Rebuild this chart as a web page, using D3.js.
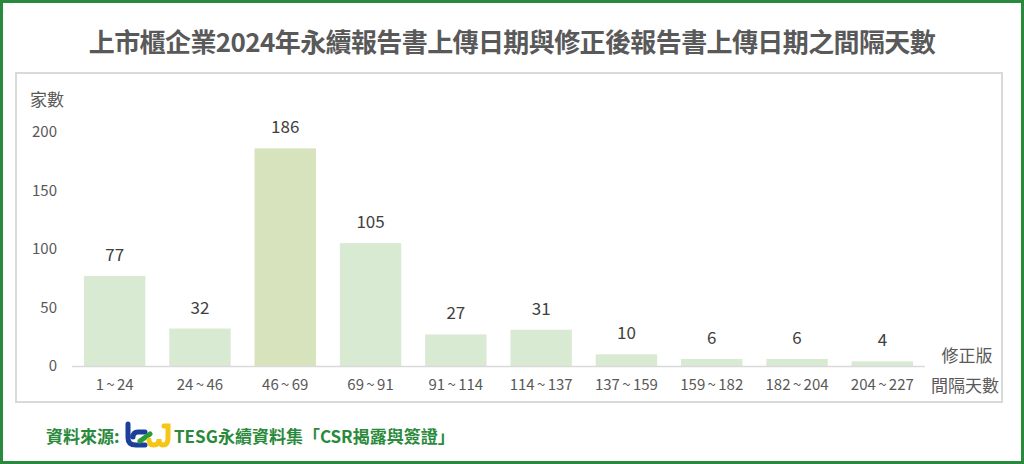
<!DOCTYPE html>
<html>
<head>
<meta charset="utf-8">
<script src="https://cdn.jsdelivr.net/npm/d3@7"></script>
<style>
  body { margin: 0; background: #fff; }
  svg { display: block; font-family: "Noto Sans CJK TC", "Noto Sans", sans-serif; }
</style>
</head>
<body>
<div id="chart"></div>
<script>
// data
const categories = ["1 ~ 24", "24 ~ 46", "46 ~ 69", "69 ~ 91", "91 ~ 114", "114 ~ 137", "137 ~ 159", "159 ~ 182", "182 ~ 204", "204 ~ 227"];
const counts = [77, 32, 186, 105, 27, 31, 10, 6, 6, 4];
const highlight = "46 ~ 69";
const yTicks = [0, 50, 100, 150, 200];

const W = 1024, H = 464;

const svg = d3.select("#chart").append("svg")
    .attr("width", W)
    .attr("height", H);

// outer green frame
svg.append("rect")
    .attr("x", 1.5).attr("y", 1.5)
    .attr("width", W - 3).attr("height", H - 3)
    .attr("fill", "#fff")
    .attr("stroke", "#2a8a3c")
    .attr("stroke-width", 3);

// title
svg.append("text")
    .attr("x", 512).attr("y", 52)
    .attr("text-anchor", "middle")
    .attr("font-size", 26)
    .attr("font-weight", "bold")
    .attr("fill", "#595959")
    .attr("letter-spacing", -0.6)
    .text("上市櫃企業2024年永續報告書上傳日期與修正後報告書上傳日期之間隔天數");

// chart panel
svg.append("rect")
    .attr("x", 16).attr("y", 73)
    .attr("width", 986).attr("height", 329)
    .attr("fill", "#fff")
    .attr("stroke", "#d9d9d9")
    .attr("stroke-width", 2);

let x = d3.scaleBand()
    .domain(categories)
    .range([72, 925])
    .paddingInner(0.28)
    .paddingOuter(0.14);

let y = d3.scaleLinear()
    .domain([0, 200])
    .range([366, 132]);

// y tick labels
svg.append("g")
    .selectAll("text")
    .data(yTicks)
    .join("text")
    .attr("x", 57)
    .attr("y", d => y(d) + 5)
    .attr("text-anchor", "end")
    .attr("font-size", 15)
    .attr("fill", "#595959")
    .text(d => d);

svg.append("text")
    .attr("x", 30).attr("y", 106)
    .attr("font-size", 17)
    .attr("fill", "#595959")
    .text("家數");

// bars
svg.append("g")
    .selectAll("rect")
    .data(categories)
    .join("rect")
    .attr("x", d => x(d))
    .attr("y", (d, i) => y(counts[i]))
    .attr("width", x.bandwidth())
    .attr("height", (d, i) => y(0) - y(counts[i]))
    .attr("fill", d => d === highlight ? "#d7e3bc" : "#d9ead3");

// baseline
svg.append("line")
    .attr("x1", 72).attr("x2", 925)
    .attr("y1", y(0) + 0.5).attr("y2", y(0) + 0.5)
    .attr("stroke", "#d9d9d9")
    .attr("stroke-width", 1.5);

// value labels
svg.append("g")
    .selectAll("text")
    .data(categories)
    .join("text")
    .attr("x", d => x(d) + x.bandwidth() / 2)
    .attr("y", (d, i) => y(counts[i]) - 15)
    .attr("text-anchor", "middle")
    .attr("font-size", 17)
    .attr("fill", "#404040")
    .text((d, i) => counts[i]);

// x labels
svg.append("g")
    .selectAll("text")
    .data(categories)
    .join("text")
    .attr("x", d => x(d) + x.bandwidth() / 2)
    .attr("y", 390)
    .attr("text-anchor", "middle")
    .attr("font-size", 15)
    .attr("fill", "#595959")
    .attr("word-spacing", -1)
    .text(d => d);

svg.append("text")
    .attr("x", 967).attr("y", 362)
    .attr("text-anchor", "middle")
    .attr("font-size", 17)
    .attr("fill", "#595959")
    .text("修正版");

svg.append("text")
    .attr("x", 965).attr("y", 392)
    .attr("text-anchor", "middle")
    .attr("font-size", 17)
    .attr("fill", "#595959")
    .text("間隔天數");

// source line
svg.append("text")
    .attr("x", 46).attr("y", 443)
    .attr("font-size", 17)
    .attr("font-weight", "bold")
    .attr("fill", "#2a8a3c")
    .text("資料來源:");

// little logo
const logo = svg.append("g").attr("transform", "translate(125,423)");
logo.append("path")
    .attr("d", "M3,1 L3,15 Q3,22 11,22 L20,22 M20,9 L13,9 Q8,9 8,14")
    .attr("fill", "none")
    .attr("stroke", "#1c3f9c")
    .attr("stroke-width", 5)
    .attr("stroke-linecap", "round");
logo.append("line")
    .attr("x1", 15).attr("y1", 18).attr("x2", 25).attr("y2", 11)
    .attr("stroke", "#2a9a3c")
    .attr("stroke-width", 5)
    .attr("stroke-linecap", "round");
logo.append("path")
    .attr("d", "M24,17 Q24,22 29,22 Q34,22 34,16 Q34,22 38,22 Q43,22 43,15 L43,3 L39,3")
    .attr("fill", "none")
    .attr("stroke", "#f5c518")
    .attr("stroke-width", 5)
    .attr("stroke-linecap", "round");

svg.append("text")
    .attr("x", 174).attr("y", 443)
    .attr("font-size", 17)
    .attr("font-weight", "bold")
    .attr("fill", "#2a8a3c")
    .text("TESG永續資料集「CSR揭露與簽證」");
</script>
</body>
</html>
